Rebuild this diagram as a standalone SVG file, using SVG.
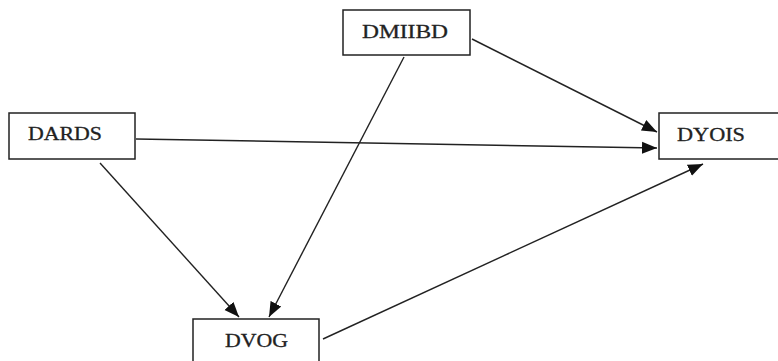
<svg xmlns="http://www.w3.org/2000/svg" width="778" height="361" viewBox="0 0 778 361">
<style>
.box{fill:#fff;stroke:#222;stroke-width:1.5}
.lbl{font-family:"Liberation Serif","Times New Roman",serif;font-size:19px;fill:#222;stroke:#222;stroke-width:0.3}
.edge{stroke:#222;stroke-width:1.4;fill:none;marker-end:url(#ah)}
</style>
<defs>
<marker id="ah" markerUnits="userSpaceOnUse" markerWidth="16" markerHeight="14" refX="15" refY="7" orient="auto">
<path d="M0,1 L15,7 L0,13 Z" fill="#111"/>
</marker>
</defs>
<rect width="778" height="361" fill="#fff"/>
<g id="edges">
<line class="edge" x1="472" y1="39" x2="657" y2="132"/>
<line class="edge" x1="136" y1="139" x2="657" y2="148"/>
<line class="edge" x1="100" y1="163" x2="239" y2="317"/>
<line class="edge" x1="404" y1="57" x2="269" y2="317"/>
<line class="edge" x1="323" y1="339" x2="703" y2="164"/>
</g>
<g id="DMIIBD">
<rect class="box" x="343" y="10" width="127" height="45"/>
<text class="lbl" x="362" y="38" textLength="86" lengthAdjust="spacingAndGlyphs">DMIIBD</text>
</g>
<g id="DARDS">
<rect class="box" x="9" y="113" width="126" height="46"/>
<text class="lbl" x="28" y="140" textLength="74" lengthAdjust="spacingAndGlyphs">DARDS</text>
</g>
<g id="DYOIS">
<rect class="box" x="659" y="113" width="125" height="46"/>
<text class="lbl" x="677" y="141" textLength="68" lengthAdjust="spacingAndGlyphs">DYOIS</text>
</g>
<g id="DVOG">
<rect class="box" x="193" y="319" width="126" height="60"/>
<text class="lbl" x="225" y="347" textLength="63" lengthAdjust="spacingAndGlyphs">DVOG</text>
</g>
</svg>
